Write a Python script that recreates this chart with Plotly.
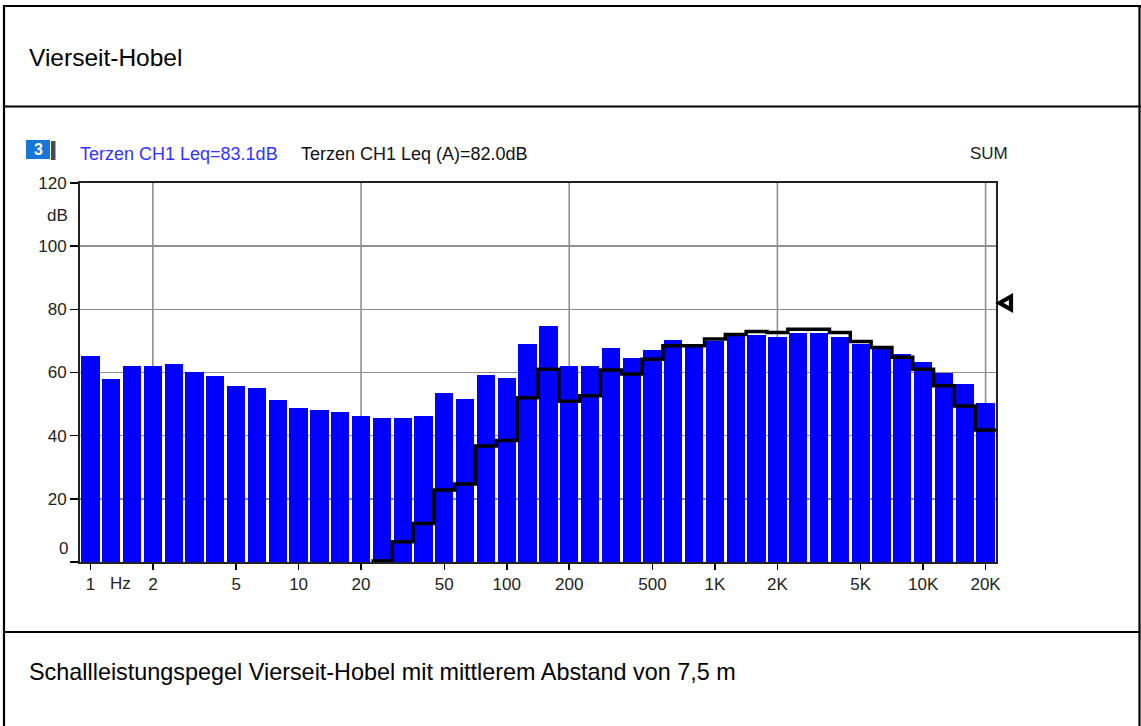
import plotly.graph_objects as go

# ---------------- data ----------------
bands = ["1", "1.25", "1.6", "2", "2.5", "3.15", "4", "5", "6.3", "8",
         "10", "12.5", "16", "20", "25", "31.5", "40", "50", "63", "80",
         "100", "125", "160", "200", "250", "315", "400", "500", "630", "800",
         "1K", "1.25K", "1.6K", "2K", "2.5K", "3.15K", "4K", "5K", "6.3K", "8K",
         "10K", "12.5K", "16K", "20K"]

levels = [65.3, 57.8, 62.0, 62.0, 62.6, 60.2, 58.9, 55.7, 55.1, 51.3,
          48.7, 48.1, 47.4, 46.2, 45.5, 45.7, 46.3, 53.4, 51.5, 59.2,
          58.3, 69.0, 74.7, 62.1, 62.1, 67.9, 64.7, 67.2, 70.4, 68.6,
          70.0, 71.5, 71.8, 71.2, 72.5, 72.5, 71.4, 69.1, 67.4, 65.9,
          63.4, 60.0, 56.3, 50.5]

levels_a = [None] * 14 + [
    0.3, 6.4, 12.2, 22.8, 24.7, 36.7,
    38.5, 52.0, 61.0, 50.9, 52.6, 60.8, 59.5, 64.2, 68.5, 68.5,
    70.6, 72.0, 73.0, 72.7, 73.7, 73.7, 72.7, 69.8, 67.9, 64.8,
    61.0, 55.8, 49.4, 41.8]

axis_labels = ["1", "2", "5", "10", "20", "50", "100", "200", "500",
               "1K", "2K", "5K", "10K", "20K"]
grid_bands = ["2", "20", "200", "2K", "20K"]
y_ticks = [0, 20, 40, 60, 80, 100, 120]

leq = 83.1
leq_a = 82.0

title_text = "Vierseit-Hobel"
caption_text = "Schallleistungspegel Vierseit-Hobel mit mittlerem Abstand von 7,5 m"

# ---------------- geometry helpers (pixel -> paper) ----------------
W, H = 1141, 726
L, R, T, B = 80, 996, 183, 562


def px(x):
    return (x - L) / (R - L)


def py(y):
    return (B - y) / (B - T)


idx = list(range(len(bands)))

fig = go.Figure()

fig.add_trace(go.Bar(
    x=idx, y=levels, width=0.88,
    marker=dict(color="#0000ff", line=dict(width=0)),
    hoverinfo="skip", showlegend=False,
))

# A-weighted step line, drawn band edge to band edge
sx, sy = [], []
for i, v in enumerate(levels_a):
    if v is None:
        continue
    sx.append(i - 0.5)
    sy.append(v)
sx.append(len(bands) - 0.5)
sy.append(sy[-1])
fig.add_trace(go.Scatter(
    x=sx, y=sy, mode="lines", line=dict(color="black", width=3.5, shape="hv"),
    cliponaxis=False, hoverinfo="skip", showlegend=False,
))

shapes = []
# vertical gridlines
for b in grid_bands:
    i = bands.index(b)
    shapes.append(dict(type="line", xref="x", yref="paper", x0=i, x1=i, y0=0, y1=1,
                       line=dict(color="#8f8f8f", width=1.6), layer="below"))

# SUM marker (A-weighted total) on the right edge
dy = 6.5 * 120 / (B - T)
shapes.append(dict(
    type="path", xref="paper", yref="y",
    path=f"M {px(999.5)},{leq_a} L {px(1011)},{leq_a + dy} L {px(1011)},{leq_a - dy} Z",
    fillcolor="white", line=dict(color="black", width=4.2), layer="above"))

# document frame
frame = dict(color="black", width=2.2)
shapes += [
    dict(type="line", xref="paper", yref="paper", x0=px(4), x1=px(4), y0=py(5), y1=py(740), line=frame),
    dict(type="line", xref="paper", yref="paper", x0=px(1139.5), x1=px(1139.5), y0=py(5), y1=py(740), line=frame),
    dict(type="line", xref="paper", yref="paper", x0=px(3), x1=px(1145), y0=py(6), y1=py(6), line=frame),
    dict(type="line", xref="paper", yref="paper", x0=px(3), x1=px(1145), y0=py(106.5), y1=py(106.5), line=frame),
    dict(type="line", xref="paper", yref="paper", x0=px(3), x1=px(1145), y0=py(632), y1=py(632), line=frame),
]
# channel badge "3"
shapes += [
    dict(type="rect", xref="paper", yref="paper", x0=px(51), x1=px(55.5), y0=py(141), y1=py(160),
         fillcolor="#4a4a4a", line=dict(width=0)),
    dict(type="rect", xref="paper", yref="paper", x0=px(26), x1=px(50), y0=py(140), y1=py(159),
         fillcolor="#1677d6", line=dict(width=0)),
]

FONT = "Liberation Sans, Arial, sans-serif"

ann = []
ann.append(dict(text=title_text, x=px(27), y=py(58), xref="paper", yref="paper",
                xanchor="left", yanchor="middle", showarrow=False,
                font=dict(family=FONT, size=24.5, color="black")))
ann.append(dict(text=caption_text, x=px(27), y=py(672), xref="paper", yref="paper",
                xanchor="left", yanchor="middle", showarrow=False,
                font=dict(family=FONT, size=23.4, color="black")))
ann.append(dict(text="<b>3</b>", x=px(38), y=py(149.5), xref="paper", yref="paper",
                xanchor="center", yanchor="middle", showarrow=False,
                font=dict(family=FONT, size=16, color="white")))
ann.append(dict(text=f"Terzen CH1 Leq={leq:.1f}dB", x=px(78), y=py(154), xref="paper", yref="paper",
                xanchor="left", yanchor="middle", showarrow=False,
                font=dict(family=FONT, size=18, color="#3333ff")))
ann.append(dict(text=f"Terzen CH1 Leq (A)={leq_a:.1f}dB", x=px(299), y=py(154), xref="paper", yref="paper",
                xanchor="left", yanchor="middle", showarrow=False,
                font=dict(family=FONT, size=18, color="#111111")))
ann.append(dict(text="SUM", x=px(989), y=py(154), xref="paper", yref="paper",
                xanchor="center", yanchor="middle", showarrow=False,
                font=dict(family=FONT, size=17, color="#222222")))
ann.append(dict(text="dB", x=px(70), y=py(215), xref="paper", yref="paper",
                xanchor="right", yanchor="middle", showarrow=False,
                font=dict(family=FONT, size=17, color="#222222")))
ann.append(dict(text="0", x=px(70), y=py(548), xref="paper", yref="paper",
                xanchor="right", yanchor="middle", showarrow=False,
                font=dict(family=FONT, size=17, color="#222222")))
ann.append(dict(text="Hz", x=px(120), y=py(583), xref="paper", yref="paper",
                xanchor="center", yanchor="middle", showarrow=False,
                font=dict(family=FONT, size=17, color="#222222")))

fig.update_layout(
    width=W, height=H,
    margin=dict(l=L, r=W - R, t=T, b=H - B, pad=0),
    paper_bgcolor="white", plot_bgcolor="white",
    bargap=0, showlegend=False,
    shapes=shapes, annotations=ann,
    font=dict(family=FONT, size=17, color="#222222"),
    xaxis=dict(
        range=[-0.5, len(bands) - 0.5],
        tickmode="array",
        tickvals=[bands.index(b) for b in axis_labels],
        ticktext=axis_labels,
        ticks="outside", ticklen=6, tickwidth=1.5, tickcolor="black",
        showgrid=False, zeroline=False,
        showline=True, linecolor="#222222", linewidth=2, mirror=True,
        tickfont=dict(family=FONT, size=17, color="#222222"),
        fixedrange=True,
    ),
    yaxis=dict(
        range=[0, 120],
        tickmode="array",
        tickvals=y_ticks,
        ticktext=["" if v == 0 else str(v) for v in y_ticks],
        ticks="outside", ticklen=8, tickwidth=1.5, tickcolor="black",
        showgrid=True, gridcolor="#8f8f8f", gridwidth=1.6,
        zeroline=False,
        showline=True, linecolor="#222222", linewidth=2, mirror=True,
        tickfont=dict(family=FONT, size=17, color="#222222"),
        fixedrange=True,
    ),
)

fig.write_html(
    "out.html",
    config={"displayModeBar": False, "staticPlot": True},
    post_script="document.body.style.margin='0';document.body.style.overflow='hidden';",
)
